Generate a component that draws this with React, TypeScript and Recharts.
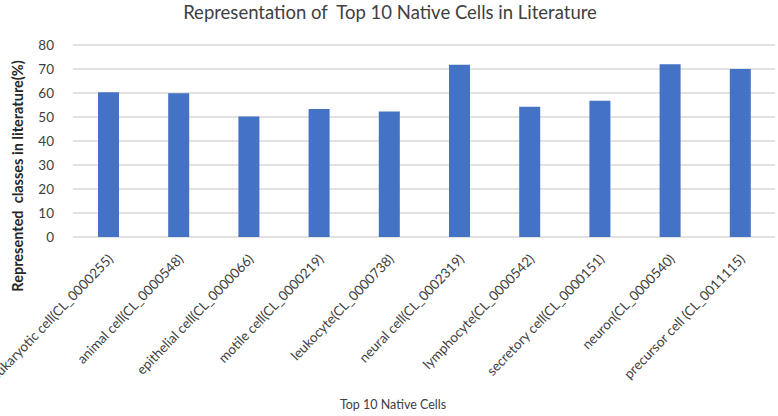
import { Bar, BarChart, CartesianGrid, XAxis, YAxis } from "recharts";

const cells = [
  "eukaryotic cell(CL_0000255)",
  "animal cell(CL_0000548)",
  "epithelial cell(CL_0000066)",
  "motile cell(CL_0000219)",
  "leukocyte(CL_0000738)",
  "neural cell(CL_0002319)",
  "lymphocyte(CL_0000542)",
  "secretory cell(CL_0000151)",
  "neuron(CL_0000540)",
  "precursor cell (CL_0011115)",
];
const represented = [60.3, 59.9, 50.2, 53.3, 52.3, 71.8, 54.3, 56.8, 72.0, 70.0];
const yTicks = [0, 10, 20, 30, 40, 50, 60, 70, 80];

const chartData = cells.map((name, i) => ({ name, value: represented[i] }));

const FONT = "Lato, 'Open Sans', sans-serif";

const CellTick = (props: any) => {
  const { x, y, payload } = props;
  return (
    <g transform={`translate(${x + 3},${y + 12})`}>
      <text
        x={0}
        y={0}
        dy={4}
        textAnchor="end"
        transform="rotate(-46)"
        fill="#404040"
        fontSize={13.5}
        fontFamily={FONT}
        style={{ whiteSpace: "pre" }}
      >
        {payload.value}
      </text>
    </g>
  );
};

export default function App() {
  return (
    <div style={{ position: "absolute", left: 0, top: 0, width: 778, height: 416, background: "#fff" }}>
      <BarChart
        width={778}
        height={416}
        data={chartData}
        margin={{ top: 45, right: 3, bottom: 29, left: 0 }}
        barCategoryGap={0}
      >
        <text
          x={390}
          y={19}
          textAnchor="middle"
          fill="#404040"
          fontSize={18.5}
          fontFamily={FONT}
          style={{ whiteSpace: "pre" }}
        >
          Representation of  Top 10 Native Cells in Literature
        </text>
        <text x={393} y={409} textAnchor="middle" fill="#404040" fontSize={12.5} fontFamily={FONT}>
          Top 10 Native Cells
        </text>
        <text
          x={23}
          y={176}
          textAnchor="middle"
          transform="rotate(-90, 23, 176)"
          fill="#262626"
          fontSize={14.5}
          fontWeight="bold"
          fontFamily={FONT}
          style={{ whiteSpace: "pre" }}
        >
          Represented  classes in literature(%)
        </text>
        <CartesianGrid vertical={false} stroke="#d9d9d9" strokeWidth={1.5} />
        <XAxis
          dataKey="name"
          interval={0}
          height={150}
          axisLine={false}
          tickLine={false}
          tick={<CellTick />}
        />
        <YAxis
          width={73}
          domain={[0, 80]}
          ticks={yTicks}
          axisLine={false}
          tickLine={false}
          tickMargin={13}
          tick={{ fill: "#404040", fontSize: 13.5, fontFamily: FONT }}
        />
        <Bar dataKey="value" fill="#4472C4" barSize={21} isAnimationActive={false} />
      </BarChart>
    </div>
  );
}
